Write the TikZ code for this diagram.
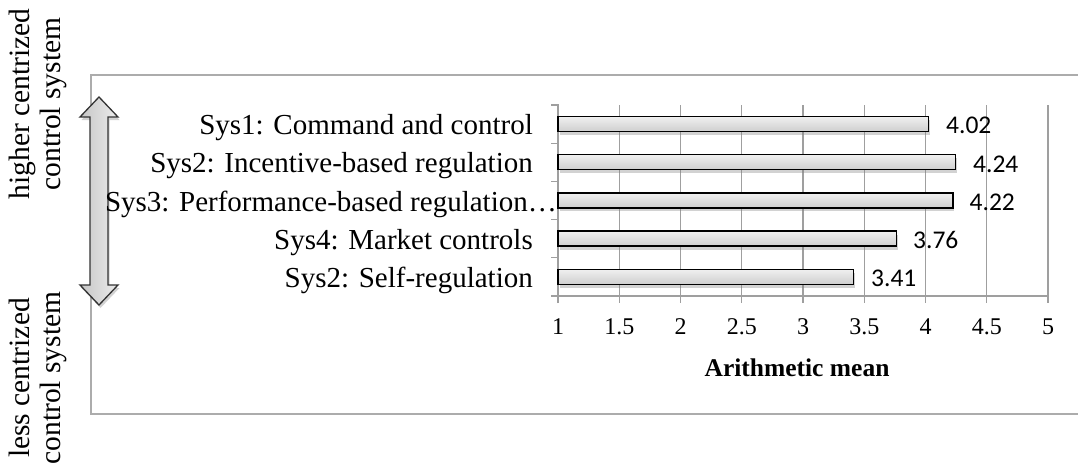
\documentclass[tikz,border=0pt]{standalone}
\usepackage{fontspec}
\setmainfont{Liberation Serif}
\newfontfamily\carlito{Carlito}
\usetikzlibrary{shadows}
\begin{document}
\begin{tikzpicture}[x=1pt,y=-1pt,
  gridline/.style={draw=gray!75, line width=1.3pt},
  frameline/.style={draw=gray!65, line width=1.3pt},
  barbox/.style={draw=black, line width=1.4pt, top color=gray!12, bottom color=gray!38,
    drop shadow={shadow xshift=1.5pt, shadow yshift=-3.5pt, opacity=0.35}},
  catlabel/.style={anchor=base east, inner sep=0pt, font=\fontsize{29}{33}\selectfont},
  ticklabel/.style={inner sep=0pt, font=\fontsize{24}{28}\selectfont},
  vallabel/.style={anchor=west, inner sep=0pt, font=\carlito\fontsize{25.5}{29}\selectfont},
  sidelabel/.style={rotate=90, align=center, inner sep=0pt, font=\fontsize{29.5}{31}\selectfont},
  bigarrow/.style={draw=black!80, line width=1.3pt, left color=gray!45, right color=gray!15,
    drop shadow={shadow xshift=1.5pt, shadow yshift=-3pt, opacity=0.35}}
]
\useasboundingbox (0,0) rectangle (1078,466);
\fill[white] (0,0) rectangle (1078,466);
% frame
\draw[frameline] (1090,75) -- (91,75) -- (91,414) -- (1090,414);
% side labels
\node[sidelabel] (hi) at (38,104) {higher centrized\\control system};
\node[sidelabel] (lo) at (38,378) {less centrized\\control system};
% double arrow
\draw[bigarrow] (99,97) -- (118,117) -- (108,117) -- (108,285) -- (118,285) -- (99,305)
  -- (80,285) -- (90,285) -- (90,117) -- (80,117) -- cycle;
% grid
\foreach \k in {1,...,8} {
  \draw[gridline] ({558+61.25*\k},105) -- ({558+61.25*\k},303);
}
\draw[gridline] (558,303) -- (558,105) -- (551,105);
\foreach \j in {1,...,5} {
  \draw[gridline] (551,{105+38.2*\j}) -- (558,{105+38.2*\j});
}
\draw[gridline] (558,296.0) -- (1048,296.0);
% bars
\draw[barbox] (558,116.5) rectangle (928.2,131.5);
\draw[barbox] (558,154.7) rectangle (955.2,169.7);
\draw[barbox] (558,192.9) rectangle (952.8,207.9);
\draw[barbox] (558,231.1) rectangle (896.4,246.1);
\draw[barbox] (558,269.3) rectangle (853.5,284.3);
% value labels
\node[vallabel] (v1) at (946,125.5) {4.02};
\node[vallabel] (v2) at (973,164.0) {4.24};
\node[vallabel] (v3) at (969.5,202.2) {4.22};
\node[vallabel] (v4) at (913,240.4) {3.76};
\node[vallabel] (v5) at (871,278.3) {3.41};
% category labels
\node[catlabel] (c1) at (533,134.6) {Sys1: Command and control};
\node[catlabel] (c2) at (533,172.8) {Sys2: Incentive-based regulation};
\node[catlabel] (c3) at (557,211.0) {Sys3: Performance-based regulation…};
\node[catlabel] (c4) at (533,249.2) {Sys4: Market controls};
\node[catlabel] (c5) at (533,287.6) {Sys2: Self-regulation};
% tick labels
\foreach \lab [count=\i from 0] in {1,1.5,2,2.5,3,3.5,4,4.5,5} {
  \node[ticklabel] (t\i) at ({558+61.25*\i},327) {\lab};
}
\node[ticklabel, font=\bfseries\fontsize{25.5}{29}\selectfont] (xl) at (797,368) {Arithmetic mean};
\end{tikzpicture}
\end{document}
